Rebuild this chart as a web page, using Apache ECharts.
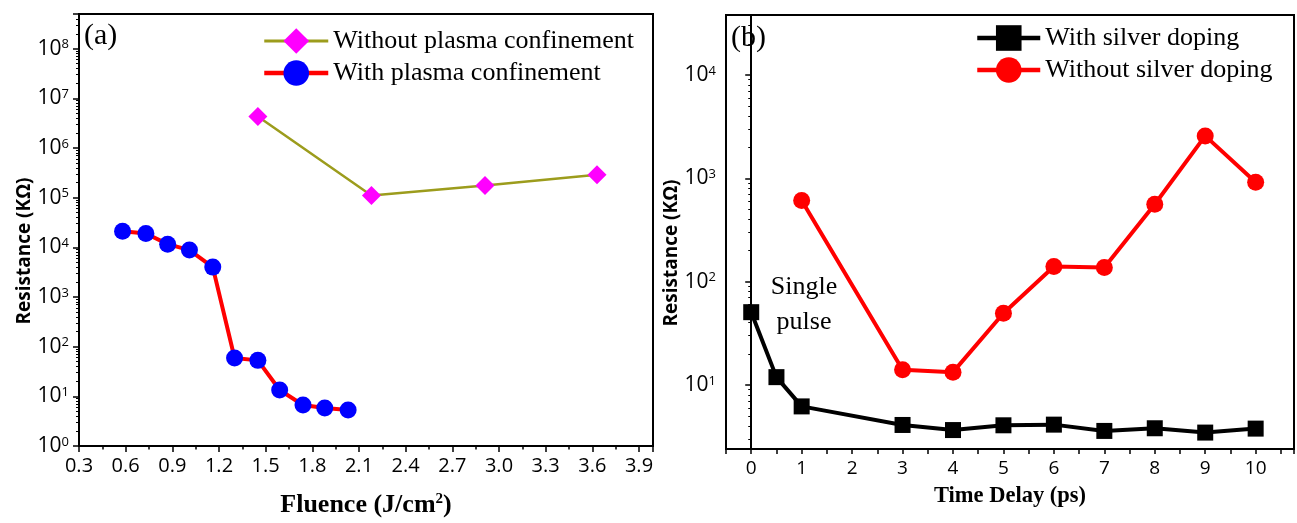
<!DOCTYPE html>
<html>
<head>
<meta charset="utf-8">
<script src="https://cdn.jsdelivr.net/npm/echarts@6.0.0/dist/echarts.min.js"></script>
<style>
  html, body { margin: 0; padding: 0; background: #fff; }
  #chart { width: 1297px; height: 523px; }
</style>
</head>
<body>
<div id="chart"></div>
<script>
// (a) resistance vs fluence
const fluenceWith = [0.58, 0.73, 0.87, 1.01, 1.16, 1.30, 1.45, 1.59, 1.74, 1.88, 2.03];
const resistWith = [21000, 19000, 11600, 8800, 4000, 59, 53, 13.4, 6.7, 5.8, 5.3];
const fluenceWithout = [1.45, 2.18, 2.91, 3.63];
const resistWithout = [4.3e6, 1.11e5, 1.76e5, 2.9e5];

// (b) resistance vs time delay
const delayAg = [0, 0.5, 1, 3, 4, 5, 6, 7, 8, 9, 10];
const resistAg = [50.6, 11.9, 6.2, 4.1, 3.66, 4.07, 4.13, 3.59, 3.81, 3.46, 3.78];
const delayNoAg = [1, 3, 4, 5, 6, 7, 8, 9, 10];
const resistNoAg = [608, 14.0, 13.3, 49.4, 140, 137, 561, 2570, 916];

const pairs = (xs, ys) => xs.map((x, i) => [x, ys[i]]);

const SANS = 'Open Sans';
const SERIF = 'Liberation Serif';

let chart = echarts.init(document.getElementById('chart'));

// 10^n labels for the log axes
function powLabel(v) {
  let e = Math.log10(v);
  if (Math.abs(e - Math.round(e)) > 1e-6) return '';
  return '10{s|' + Math.round(e) + '}';
}

function logAxis(gridIndex, min, max, gap) {
  return {
    type: 'log',
    gridIndex: gridIndex,
    min: min,
    max: max,
    name: 'Resistance (KΩ)',
    nameLocation: 'middle',
    nameGap: gap,
    nameTextStyle: {
      fontFamily: SANS, fontWeight: 'bold', fontSize: 19, color: '#000',
      padding: [0, 42, 0, 0]
    },
    axisLine: { show: true, lineStyle: { color: '#000', width: 2 } },
    axisTick: { show: true, length: 6, lineStyle: { color: '#000', width: 1.5 } },
    minorTick: { show: true, splitNumber: 9, length: 3, lineStyle: { color: '#000', width: 1 } },
    splitLine: { show: false },
    axisLabel: {
      color: '#000', fontFamily: SANS, fontSize: 21, margin: 10,
      formatter: powLabel,
      rich: { s: { fontSize: 13, fontFamily: SANS, color: '#000', verticalAlign: 'top' } }
    }
  };
}

const legendText = { fontFamily: SERIF, fontSize: 26, color: '#000' };

chart.setOption({
  animation: false,
  title: [
    { text: '(a)', left: 84, top: 21, padding: 0,
      textStyle: { fontFamily: SERIF, fontWeight: 'normal', fontSize: 30, color: '#000' } },
    { text: '(b)', left: 731, top: 23, padding: 0,
      textStyle: { fontFamily: SERIF, fontWeight: 'normal', fontSize: 30, color: '#000' } }
  ],
  legend: [
    {
      data: [
        { name: 'Without plasma confinement', lineStyle: { width: 3 } },
        { name: 'With plasma confinement', lineStyle: { width: 4.5 } }
      ],
      orient: 'vertical', left: 262, top: 28, padding: 0,
      itemWidth: 64, itemHeight: 32, itemGap: 6,
      textStyle: legendText
    },
    {
      data: [
        { name: 'With silver doping', lineStyle: { width: 4.5 } },
        { name: 'Without silver doping', lineStyle: { width: 4.5 } }
      ],
      orient: 'vertical', left: 975, top: 25, padding: 0,
      itemWidth: 63, itemHeight: 32, itemGap: 6,
      textStyle: legendText
    }
  ],
  grid: [
    { left: 79, top: 14, width: 574, bottom: 74, show: true, borderColor: '#000', borderWidth: 2 },
    { left: 726, top: 15, width: 574, bottom: 74, show: true, borderColor: '#000', borderWidth: 2 }
  ],
  xAxis: [
    {
      type: 'value', gridIndex: 0, min: 0.3, max: 3.99, interval: 0.3,
      name: 'Fluence (J/cm{s|2})',
      nameLocation: 'middle', nameGap: 46,
      nameTextStyle: {
        fontFamily: SERIF, fontWeight: 'bold', fontSize: 26, color: '#000',
        rich: { s: { fontFamily: SERIF, fontWeight: 'bold', fontSize: 15, color: '#000', verticalAlign: 'top' } }
      },
      axisLine: { show: true, onZero: false, lineStyle: { color: '#000', width: 2 } },
      axisTick: { show: true, length: 6, lineStyle: { color: '#000', width: 1.5 } },
      minorTick: { show: true, splitNumber: 2, length: 3.5, lineStyle: { color: '#000', width: 1.5 } },
      splitLine: { show: false },
      axisLabel: {
        color: '#000', fontFamily: SANS, fontSize: 20, margin: 10,
        formatter: function (v) {
          let k = v / 0.3;
          if (Math.abs(k - Math.round(k)) > 1e-6) return '';
          return v.toFixed(1);
        }
      }
    },
    {
      type: 'value', gridIndex: 1, min: -0.5, max: 10.76, interval: 0.5,
      name: 'Time Delay (ps)',
      nameLocation: 'middle', nameGap: 36,
      nameTextStyle: { fontFamily: SERIF, fontWeight: 'bold', fontSize: 22.5, color: '#000' },
      axisLine: { show: true, onZero: false, lineStyle: { color: '#000', width: 2 } },
      axisTick: { show: true, length: 5, lineStyle: { color: '#000', width: 1.5 } },
      splitLine: { show: false },
      axisLabel: {
        color: '#000', fontFamily: SANS, fontSize: 19, margin: 10,
        formatter: function (v) { return Number.isInteger(v) ? String(v) : ''; }
      }
    }
  ],
  yAxis: [
    logAxis(0, 1, 5e8, 45),
    logAxis(1, 2.4, 3.8e4, 41)
  ],
  graphic: [
    {
      type: 'text', x: 804, y: 270,
      style: { text: 'Single\npulse', font: '26px "Liberation Serif"', fill: '#000',
        align: 'center', verticalAlign: 'top', lineHeight: 35 }
    }
  ],
  series: [
    {
      name: 'Without plasma confinement', type: 'line', xAxisIndex: 0, yAxisIndex: 0,
      data: pairs(fluenceWithout, resistWithout),
      symbol: 'diamond', symbolSize: 19,
      lineStyle: { color: '#9c9c1c', width: 2.5 },
      itemStyle: { color: '#ff00ff' }
    },
    {
      name: 'With plasma confinement', type: 'line', xAxisIndex: 0, yAxisIndex: 0,
      data: pairs(fluenceWith, resistWith),
      symbol: 'circle', symbolSize: 17,
      lineStyle: { color: '#ff0000', width: 4 },
      itemStyle: { color: '#0000ff' }
    },
    {
      name: 'With silver doping', type: 'line', xAxisIndex: 1, yAxisIndex: 1,
      data: pairs(delayAg, resistAg),
      symbol: 'rect', symbolSize: 16,
      lineStyle: { color: '#000', width: 4 },
      itemStyle: { color: '#000' }
    },
    {
      name: 'Without silver doping', type: 'line', xAxisIndex: 1, yAxisIndex: 1,
      data: pairs(delayNoAg, resistNoAg),
      symbol: 'circle', symbolSize: 17,
      lineStyle: { color: '#ff0000', width: 4 },
      itemStyle: { color: '#ff0000' }
    }
  ]
});
</script>
</body>
</html>
